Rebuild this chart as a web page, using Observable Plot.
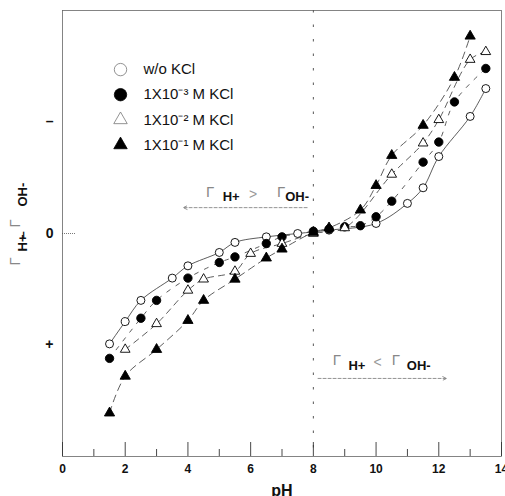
<!DOCTYPE html>
<html>
<head>
<meta charset="utf-8">
<script src="https://cdn.jsdelivr.net/npm/d3@7"></script>
<script src="https://cdn.jsdelivr.net/npm/@observablehq/plot@0.6"></script>
<style>
  body { margin: 0; background: #fff; }
  svg { font-family: "Liberation Sans", Arial, sans-serif; }
</style>
</head>
<body>
<div id="chart"></div>
<script>
// Surface excess difference (Γ_H+ − Γ_OH-) against pH for four KCl levels
const seriesNames = ["w/o KCl", "1X10⁻³ M KCl", "1X10⁻² M KCl", "1X10⁻¹ M KCl"];

const pH_noKCl = [1.5, 2.0, 2.5, 3.5, 4.0, 5.0, 5.5, 6.5, 7.5, 8.5, 10.0, 11.0, 11.5, 12.0, 13.0, 13.5];
const gamma_noKCl = [-0.99, -0.79, -0.60, -0.40, -0.29, -0.17, -0.08, -0.03, 0.0, 0.03, 0.09, 0.27, 0.41, 0.69, 1.05, 1.30];

const pH_kcl3 = [1.5, 2.5, 3.0, 4.0, 5.0, 5.5, 6.5, 7.0, 8.0, 8.5, 9.0, 9.5, 10.0, 10.5, 11.5, 12.0, 12.5, 13.5];
const gamma_kcl3 = [-1.12, -0.76, -0.60, -0.40, -0.26, -0.21, -0.09, -0.03, 0.02, 0.04, 0.06, 0.07, 0.15, 0.29, 0.64, 0.82, 1.18, 1.48];

const pH_kcl2 = [2.0, 3.0, 4.0, 4.5, 5.5, 6.0, 7.0, 8.0, 9.0, 10.5, 11.5, 12.0, 13.0, 13.5];
const gamma_kcl2 = [-1.04, -0.81, -0.51, -0.41, -0.34, -0.18, -0.09, 0.0, 0.05, 0.53, 0.81, 1.02, 1.56, 1.63];

const pH_kcl1 = [1.5, 2.0, 3.0, 4.0, 4.5, 5.5, 6.5, 7.0, 8.0, 8.5, 9.5, 10.0, 10.5, 11.5, 12.5, 13.0];
const gamma_kcl1 = [-1.61, -1.28, -1.04, -0.78, -0.60, -0.41, -0.22, -0.14, 0.01, 0.05, 0.21, 0.43, 0.70, 0.97, 1.40, 1.77];

const xTicks = [0, 2, 4, 6, 8, 10, 12, 14];
const xMinorTicks = [1, 3, 5, 7, 9, 11, 13];
const yTickValues = [-1, 0, 1];
const yTickLabels = ["+", "0", "–"];

// Chart geometry
const W = 505, H = 496;
const M = {top: 10, right: 4, bottom: 40, left: 62};
const xDomain = [0, 14], yDomain = [-2, 2];
const pxPerY = (H - M.top - M.bottom) / (yDomain[1] - yDomain[0]);
const pxPerX = (W - M.left - M.right) / (xDomain[1] - xDomain[0]);

// Per-series drawing styles
const styles = [
  {symbol: "circle",   fill: "white", r: 4,   dash: null},
  {symbol: "circle",   fill: "black", r: 4.2, dash: "4,7"},
  {symbol: "triangle", fill: "white", r: 3.6, dash: "6,5"},
  {symbol: "triangle", fill: "black", r: 3.8, dash: "7,5"}
];

const seriesData = [
  [pH_noKCl, gamma_noKCl],
  [pH_kcl3, gamma_kcl3],
  [pH_kcl2, gamma_kcl2],
  [pH_kcl1, gamma_kcl1]
].map(([xs, ys], k) => xs.map((p, i) => ({series: seriesNames[k], pH: p, gamma: ys[i]})));

// Legend placement (data units)
const legendX = 1.85, legendTextX = 2.58, legendTop = 1.47, legendStep = 0.225;
const legendRows = seriesNames.map((name, i) => ({name, x: legendX, tx: legendTextX, y: legendTop - i * legendStep}));

// Region annotations: Γ symbols, subscripts and relation signs
const annotationPieces = [
  {kind: "gamma", text: "Γ", x: 4.71, y: 0.375},
  {kind: "sub",   text: "H+", x: 5.38, y: 0.33},
  {kind: "rel",   text: ">", x: 6.08, y: 0.35},
  {kind: "gamma", text: "Γ", x: 6.97, y: 0.375},
  {kind: "sub",   text: "OH-", x: 7.48, y: 0.33},
  {kind: "gamma", text: "Γ", x: 8.75, y: -1.135},
  {kind: "sub",   text: "H+", x: 9.39, y: -1.19},
  {kind: "rel",   text: "<", x: 10.05, y: -1.16},
  {kind: "gamma", text: "Γ", x: 10.63, y: -1.135},
  {kind: "sub",   text: "OH-", x: 11.36, y: -1.19}
];
const arrows = [
  {x1: 7.8, y1: 0.232, x2: 3.85, y2: 0.232},
  {x1: 8.15, y1: -1.30, x2: 12.25, y2: -1.30}
];

// Rotated y-axis title pieces (screen offsets from the left-middle of the frame)
const yTitlePieces = [
  {text: "Γ",   kind: "gamma", dx: -47, dy: 32},
  {text: "H+",  kind: "sub",   dx: -40, dy: 18},
  {text: "–",   kind: "sub",   dx: -40, dy: 5},
  {text: "Γ",   kind: "gamma", dx: -47, dy: -6},
  {text: "OH-", kind: "sub",   dx: -40, dy: -27}
];

const lineMarks = seriesData.map((rows, k) =>
  Plot.line(rows, {
    x: "pH", y: "gamma", curve: "catmull-rom",
    stroke: "#333", strokeWidth: 0.8,
    strokeDasharray: styles[k].dash ?? undefined
  })
);
const dotMarks = seriesData.map((rows, k) =>
  Plot.dot(rows, {
    x: "pH", y: "gamma", symbol: styles[k].symbol, r: styles[k].r,
    fill: styles[k].fill, stroke: "black", strokeWidth: 0.9
  })
);
const legendMarks = legendRows.flatMap((row, k) => [
  Plot.dot([row], {
    x: "x", y: "y", symbol: styles[k].symbol, r: styles[k].symbol === "circle" ? 6.2 : 5,
    fill: styles[k].fill, stroke: styles[k].fill === "white" ? "#777" : "black", strokeWidth: 0.8
  }),
  Plot.text([row], {
    x: "tx", y: "y", text: "name", textAnchor: "start",
    fontSize: 15, fill: "#111", letterSpacing: "-0.5px"
  })
]);

const yTitleMarks = yTitlePieces.map(p =>
  Plot.text([p], {
    text: "text", frameAnchor: "left", rotate: -90, dx: p.dx, dy: p.dy,
    fontSize: p.kind === "gamma" ? 15 : 13,
    fontWeight: p.kind === "gamma" ? 200 : "bold",
    fill: p.kind === "gamma" ? "#888" : "#111"
  })
);

const chart = Plot.plot({
  width: W, height: H,
  marginTop: M.top, marginRight: M.right, marginBottom: M.bottom, marginLeft: M.left,
  x: {domain: xDomain, label: null},
  y: {domain: yDomain, label: null},
  marks: [
    Plot.frame({stroke: "#666", strokeWidth: 0.8}),
    Plot.ruleX([8], {stroke: "#555", strokeWidth: 1, strokeDasharray: "2.5,12"}),
    // inward ticks on the pH axis
    Plot.ruleX(xTicks, {x: d => d, y1: yDomain[0], y2: yDomain[0] + 14 / pxPerY, stroke: "#333", strokeWidth: 0.9}),
    Plot.ruleX(xMinorTicks, {x: d => d, y1: yDomain[0], y2: yDomain[0] + 7 / pxPerY, stroke: "#333", strokeWidth: 0.9}),
    Plot.axisX(xTicks, {tickSize: 0, tickPadding: 8, fontSize: 12, fontWeight: "bold", fill: "#111", label: null}),
    Plot.axisY(yTickValues, {
      tickSize: 0, tickPadding: 9, fontSize: 14, fontWeight: "bold", fill: "#111", label: null,
      tickFormat: d => yTickLabels[yTickValues.indexOf(d)]
    }),
    Plot.ruleY([0], {x1: xDomain[0], x2: xDomain[0] + 14 / pxPerX, stroke: "#555", strokeWidth: 0.8, strokeDasharray: "1,1"}),
    Plot.text(["pH"], {frameAnchor: "bottom", dy: 39, lineAnchor: "bottom", fontSize: 16, fontWeight: "bold", fill: "#111"}),
    ...yTitleMarks,
    ...lineMarks,
    ...dotMarks,
    ...legendMarks,
    Plot.arrow(arrows, {
      x1: "x1", y1: "y1", x2: "x2", y2: "y2",
      stroke: "#777", strokeWidth: 0.8, strokeDasharray: "3,2", headLength: 8, headAngle: 50
    }),
    Plot.text(annotationPieces.filter(d => d.kind === "gamma"), {
      x: "x", y: "y", text: "text", fontSize: 15, fontWeight: 200, fill: "#888"
    }),
    Plot.text(annotationPieces.filter(d => d.kind === "rel"), {
      x: "x", y: "y", text: "text", fontSize: 14, fontWeight: 200, fill: "#999"
    }),
    Plot.text(annotationPieces.filter(d => d.kind === "sub"), {
      x: "x", y: "y", text: "text", fontSize: 13, fontWeight: "bold", fill: "#111"
    })
  ]
});

document.getElementById("chart").append(chart);
</script>
</body>
</html>
